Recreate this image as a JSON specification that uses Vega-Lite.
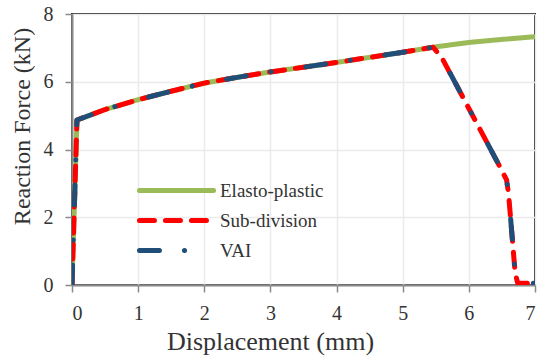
{
  "$schema": "https://vega.github.io/schema/vega-lite/v6.json",
  "width": 463,
  "height": 271,
  "autosize": {"type": "none"},
  "padding": {"left": 72, "top": 14, "right": 4, "bottom": 73},
  "background": "white",
  "config": {
    "view": {"stroke": "#222", "strokeWidth": 2},
    "font": "Liberation Serif, Times New Roman, serif",
    "axis": {
      "labelFont": "Liberation Serif, Times New Roman, serif",
      "titleFont": "Liberation Serif, Times New Roman, serif",
      "labelColor": "#333",
      "titleColor": "#333",
      "labelFontSize": 20,
      "titleFontWeight": "normal",
      "domainColor": "#8a8a8a",
      "domainWidth": 2,
      "tickColor": "#8a8a8a",
      "tickWidth": 1.5,
      "tickSize": 7,
      "gridColor": "#ebebeb",
      "gridWidth": 1.5
    }
  },
  "data": {
    "values": [
      {"series": "Elasto-plastic", "d": 0, "f": 0},
      {"series": "Elasto-plastic", "d": 0.075, "f": 4.87},
      {"series": "Elasto-plastic", "d": 0.2, "f": 4.96},
      {"series": "Elasto-plastic", "d": 0.5, "f": 5.18},
      {"series": "Elasto-plastic", "d": 1, "f": 5.47},
      {"series": "Elasto-plastic", "d": 1.5, "f": 5.72},
      {"series": "Elasto-plastic", "d": 2, "f": 5.96},
      {"series": "Elasto-plastic", "d": 2.5, "f": 6.13},
      {"series": "Elasto-plastic", "d": 3, "f": 6.29},
      {"series": "Elasto-plastic", "d": 3.5, "f": 6.43},
      {"series": "Elasto-plastic", "d": 4, "f": 6.57},
      {"series": "Elasto-plastic", "d": 4.5, "f": 6.72},
      {"series": "Elasto-plastic", "d": 5, "f": 6.87},
      {"series": "Elasto-plastic", "d": 5.46, "f": 7.02},
      {"series": "Elasto-plastic", "d": 6, "f": 7.16},
      {"series": "Elasto-plastic", "d": 6.5, "f": 7.25},
      {"series": "Elasto-plastic", "d": 7, "f": 7.33},
      {"series": "Sub-division", "d": 0, "f": 0},
      {"series": "Sub-division", "d": 0.075, "f": 4.87},
      {"series": "Sub-division", "d": 0.2, "f": 4.96},
      {"series": "Sub-division", "d": 0.5, "f": 5.18},
      {"series": "Sub-division", "d": 1, "f": 5.47},
      {"series": "Sub-division", "d": 1.5, "f": 5.72},
      {"series": "Sub-division", "d": 2, "f": 5.96},
      {"series": "Sub-division", "d": 2.5, "f": 6.13},
      {"series": "Sub-division", "d": 3, "f": 6.29},
      {"series": "Sub-division", "d": 3.5, "f": 6.43},
      {"series": "Sub-division", "d": 4, "f": 6.57},
      {"series": "Sub-division", "d": 4.5, "f": 6.72},
      {"series": "Sub-division", "d": 5, "f": 6.87},
      {"series": "Sub-division", "d": 5.46, "f": 7.02},
      {"series": "Sub-division", "d": 5.6, "f": 6.68},
      {"series": "Sub-division", "d": 6.48, "f": 3.45},
      {"series": "Sub-division", "d": 6.57, "f": 3.1},
      {"series": "Sub-division", "d": 6.6, "f": 2.7},
      {"series": "Sub-division", "d": 6.7, "f": 0.35},
      {"series": "Sub-division", "d": 6.74, "f": 0.05},
      {"series": "Sub-division", "d": 6.98, "f": 0.05},
      {"series": "VAI", "d": 0, "f": 0},
      {"series": "VAI", "d": 0.075, "f": 4.87},
      {"series": "VAI", "d": 0.2, "f": 4.96},
      {"series": "VAI", "d": 0.5, "f": 5.18},
      {"series": "VAI", "d": 1, "f": 5.47},
      {"series": "VAI", "d": 1.5, "f": 5.72},
      {"series": "VAI", "d": 2, "f": 5.96},
      {"series": "VAI", "d": 2.5, "f": 6.13},
      {"series": "VAI", "d": 3, "f": 6.29},
      {"series": "VAI", "d": 3.5, "f": 6.43},
      {"series": "VAI", "d": 4, "f": 6.57},
      {"series": "VAI", "d": 4.5, "f": 6.72},
      {"series": "VAI", "d": 5, "f": 6.87},
      {"series": "VAI", "d": 5.46, "f": 7.02},
      {"series": "VAI", "d": 5.6, "f": 6.68},
      {"series": "VAI", "d": 6.48, "f": 3.45},
      {"series": "VAI", "d": 6.57, "f": 3.1},
      {"series": "VAI", "d": 6.6, "f": 2.7},
      {"series": "VAI", "d": 6.7, "f": 0.35},
      {"series": "VAI", "d": 6.74, "f": 0.05},
      {"series": "VAI", "d": 6.98, "f": 0.05}
    ]
  },
  "mark": {"type": "line", "strokeWidth": 5, "strokeCap": "round", "strokeJoin": "round", "clip": true},
  "encoding": {
    "x": {
      "field": "d", "type": "quantitative",
      "scale": {"domain": [0, 7], "nice": false},
      "axis": {"values": [0, 1, 2, 3, 4, 5, 6, 7], "title": "Displacement (mm)", "titleFontSize": 26, "labelPadding": 11, "titlePadding": 5, "titleX": 198}
    },
    "y": {
      "field": "f", "type": "quantitative",
      "scale": {"domain": [0, 8], "nice": false},
      "axis": {"values": [0, 2, 4, 6, 8], "title": "Reaction Force (kN)", "titleFontSize": 24, "labelPadding": 12, "titlePadding": 9, "titleY": 112}
    },
    "color": {
      "field": "series", "type": "nominal",
      "scale": {"domain": ["Elasto-plastic", "Sub-division", "VAI"], "range": ["#9BBB59", "#FF0000", "#1F4E79"]},
      "legend": {
        "title": null,
        "orient": "none",
        "legendX": 67,
        "legendY": 167,
        "symbolType": "M-7,0H7",
        "symbolSize": 112,
        "symbolStrokeWidth": 5,
        "symbolOffset": 28,
        "labelFont": "Liberation Serif, Times New Roman, serif",
        "labelFontSize": 19,
        "labelColor": "#333",
        "labelOffset": 34,
        "rowPadding": 9,
        "padding": 0,
        "encode": {
          "symbols": {"update": {"strokeCap": {"value": "round"}}}
        }
      }
    },
    "strokeDash": {
      "field": "series", "type": "nominal",
      "scale": {"domain": ["Elasto-plastic", "Sub-division", "VAI"], "range": [[1, 0], [15, 11], [20, 25, 0.1, 35]]},
      "legend": null
    },
    "order": {"field": "series"}
  }
}
